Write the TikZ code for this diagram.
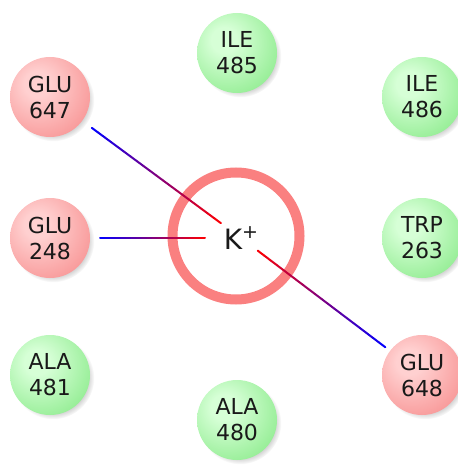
\documentclass[tikz,border=0pt]{standalone}
\usepackage{fontspec}
\setmainfont{DejaVu Sans}
\usetikzlibrary{calc,shadows,fadings}
\definecolor{rlight}{RGB}{255,208,208}
\definecolor{rdark}{RGB}{244,118,118}
\definecolor{glight}{RGB}{214,255,214}
\definecolor{gdark}{RGB}{108,226,108}
\definecolor{ringc}{RGB}{250,128,128}
\definecolor{txt}{RGB}{25,25,25}
\pgfdeclareradialshading{redball}{\pgfpoint{-9bp}{9bp}}{color(0bp)=(rlight); color(8bp)=(rlight); color(50bp)=(rdark); color(80bp)=(rdark)}
\pgfdeclareradialshading{greenball}{\pgfpoint{-9bp}{9bp}}{color(0bp)=(glight); color(8bp)=(glight); color(50bp)=(gdark); color(80bp)=(gdark)}
\newcommand\gradline[2]{%
  \foreach \i in {0,...,19}{%
    \pgfmathsetmacro\pa{\i/20}%
    \pgfmathsetmacro\pb{(\i+1)/20}%
    \pgfmathtruncatemacro\pc{\i*5+2}%
    \draw[bond, color=red!\pc!blue] ($(#1)!\pa!(#2)$) -- ($(#1)!\pb!(#2)$);
  }}
\tikzset{
  residue/.style={circle, minimum size=80pt, inner sep=0pt, align=center,
    text=txt, font=\fontsize{22}{26}\selectfont,
    circular drop shadow={shadow xshift=3pt, shadow yshift=-3pt, opacity=0.35, shadow scale=1.03}},
  acid/.style={residue, shading=redball},
  hydro/.style={residue, shading=greenball},
  bond/.style={line width=2pt, line cap=round},
  ring/.style={draw=ringc, line width=10pt}
}
\begin{document}
\begin{tikzpicture}[x=1pt,y=-1pt]
\useasboundingbox (0,0) rectangle (457,465);
\node[hydro] (i485) at (237,53) {ILE\\485};
\node[acid] (g647) at (50,97) {GLU\\647};
\node[hydro] (i486) at (422,97) {ILE\\486};
\node[acid] (g248) at (50,238) {GLU\\248};
\node[hydro] (t263) at (422,238) {TRP\\263};
\node[hydro] (a481) at (50,375) {ALA\\481};
\node[acid] (g648) at (422,375) {GLU\\648};
\node[hydro] (a480) at (237,420) {ALA\\480};
\node[circle, ring, minimum size=127pt, inner sep=0pt] (ringn) at (236,236) {};
\node[font=\fontsize{28}{30}\selectfont, text=txt, inner sep=0pt] (k) at (241,238) {K\raisebox{0.42em}{\fontsize{19}{19}\selectfont +}};
\coordinate (s1) at ($(g647.center)!52pt!(k.center)$);
\coordinate (e1) at ($(k.center)!25pt!(g647.center)$);
\coordinate (s2) at ($(g248.center)!50pt!(k.center)$);
\coordinate (e2) at ($(k.center)!36pt!(g248.center)$);
\coordinate (s3) at ($(g648.center)!46pt!(k.center)$);
\coordinate (e3) at ($(k.center)!21pt!(g648.center)$);
\gradline{s1}{e1}
\gradline{s2}{e2}
\gradline{s3}{e3}
\end{tikzpicture}
\end{document}
